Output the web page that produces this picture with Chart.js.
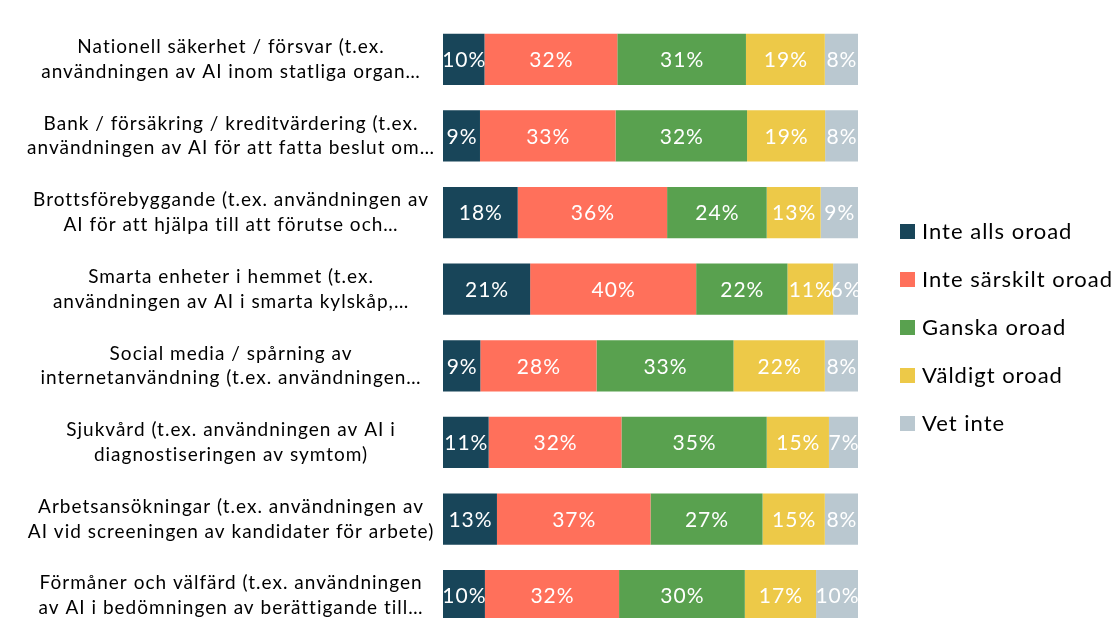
<!DOCTYPE html>
<html>
<head>
<meta charset="utf-8">
<script src="https://cdn.jsdelivr.net/npm/chart.js@4.4.1/dist/chart.umd.min.js"></script>
<style>
  html, body { margin: 0; padding: 0; background: #fff; overflow: hidden; }
  #wrap { position: absolute; left: 0; top: 0; width: 1119px; height: 640px; }
</style>
</head>
<body>
<div id="wrap"><canvas id="my-chart"></canvas></div>
<script>
'use strict';

// ********** DATA **********

let categories = [
  ['Nationell säkerhet / försvar (t.ex.', 'användningen av AI inom statliga organ…'],
  ['Bank / försäkring / kreditvärdering (t.ex.', 'användningen av AI för att fatta beslut om…'],
  ['Brottsförebyggande (t.ex. användningen av', 'AI för att hjälpa till att förutse och…'],
  ['Smarta enheter i hemmet (t.ex.', 'användningen av AI i smarta kylskåp,…'],
  ['Social media / spårning av', 'internetanvändning (t.ex. användningen…'],
  ['Sjukvård (t.ex. användningen av AI i', 'diagnostiseringen av symtom)'],
  ['Arbetsansökningar (t.ex. användningen av', 'AI vid screeningen av kandidater för arbete)'],
  ['Förmåner och välfärd (t.ex. användningen', 'av AI i bedömningen av berättigande till…']
];

let seriesNames = ['Inte alls oroad', 'Inte särskilt oroad', 'Ganska oroad', 'Väldigt oroad', 'Vet inte'];

let inteAlls = [10, 9, 18, 21, 9, 11, 13, 10];
let inteSarskilt = [32, 33, 36, 40, 28, 32, 37, 32];
let ganska = [31, 32, 24, 22, 33, 35, 27, 30];
let valdigt = [19, 19, 13, 11, 22, 15, 15, 17];
let vetInte = [8, 8, 9, 6, 8, 7, 8, 10];

let seriesColors = ['#184559', '#ff705b', '#59a14f', '#edc948', '#bac8d0'];

// ********** HELPERS **********

let allSeries = [inteAlls, inteSarskilt, ganska, valdigt, vetInte];

// rounded shares don't always add to 100, bars are scaled to full width
let rowTotals = categories.map((c, i) => allSeries.reduce((s, arr) => s + arr[i], 0));

let fontFamily = 'Lato, "Open Sans", sans-serif';

// the original text is set loosely, canvas letter spacing gets close to it
let looseText = {
  id: 'looseText',
  beforeUpdate(chart) {
    chart.ctx.letterSpacing = '1px';
  },
  beforeDraw(chart) {
    chart.ctx.letterSpacing = '1px';
  }
};

// labels in the middle of each segment
let segmentLabels = {
  id: 'segmentLabels',
  afterDatasetsDraw(chart) {
    let ctx = chart.ctx;
    ctx.save();
    ctx.letterSpacing = '1px';
    ctx.fillStyle = '#ffffff';
    ctx.font = '21px ' + fontFamily;
    ctx.textAlign = 'center';
    ctx.textBaseline = 'middle';
    chart.data.datasets.forEach((ds, di) => {
      let meta = chart.getDatasetMeta(di);
      meta.data.forEach((bar, i) => {
        let p = bar.getProps(['x', 'y', 'base'], true);
        ctx.fillText(ds.raw[i] + '%', (p.x + p.base) / 2 + 0.5, p.y + 1);
      });
    });
    ctx.restore();
  }
};

// legend on the right side, drawn from the datasets
let sideLegend = {
  id: 'sideLegend',
  afterDraw(chart) {
    let ctx = chart.ctx;
    ctx.save();
    ctx.letterSpacing = '1px';
    ctx.font = '22px ' + fontFamily;
    ctx.textBaseline = 'middle';
    ctx.textAlign = 'left';
    chart.data.datasets.forEach((ds, i) => {
      let y = 232 + i * 48;
      ctx.fillStyle = ds.backgroundColor;
      ctx.fillRect(900, y - 8, 15, 15);
      ctx.fillStyle = '#000000';
      ctx.fillText(ds.label, 922, y);
    });
    ctx.restore();
  }
};

// ********** CHART **********

let datasets = allSeries.map((arr, s) => ({
  label: seriesNames[s],
  data: arr.map((v, i) => v / rowTotals[i] * 100),
  raw: arr,
  backgroundColor: seriesColors[s],
  borderWidth: 0,
  barPercentage: 0.67,
  categoryPercentage: 1
}));

let ctx = document.getElementById('my-chart');

new Chart(ctx, { //eslint-disable-line
  type: 'bar',
  data: {
    labels: categories,
    datasets: datasets
  },
  options: {
    indexAxis: 'y',
    responsive: true,
    maintainAspectRatio: false,
    animation: false,
    layout: {
      padding: { top: 21, bottom: 6, left: 0, right: 261 }
    },
    plugins: {
      legend: { display: false },
      tooltip: { enabled: false }
    },
    scales: {
      x: {
        stacked: true,
        min: 0,
        max: 100,
        display: false
      },
      y: {
        stacked: true,
        grid: { display: false, drawTicks: false },
        border: { display: false },
        ticks: {
          autoSkip: false,
          crossAlign: 'center',
          padding: 8,
          color: '#000000',
          font: { family: fontFamily, size: 19, lineHeight: 1.3 }
        },
        afterFit(scale) {
          scale.width = 443;
          // labels may spill over the top and bottom, like the original
          scale.paddingTop = 0;
          scale.paddingBottom = 0;
        }
      }
    }
  },
  plugins: [looseText, segmentLabels, sideLegend]
});
</script>
</body>
</html>
